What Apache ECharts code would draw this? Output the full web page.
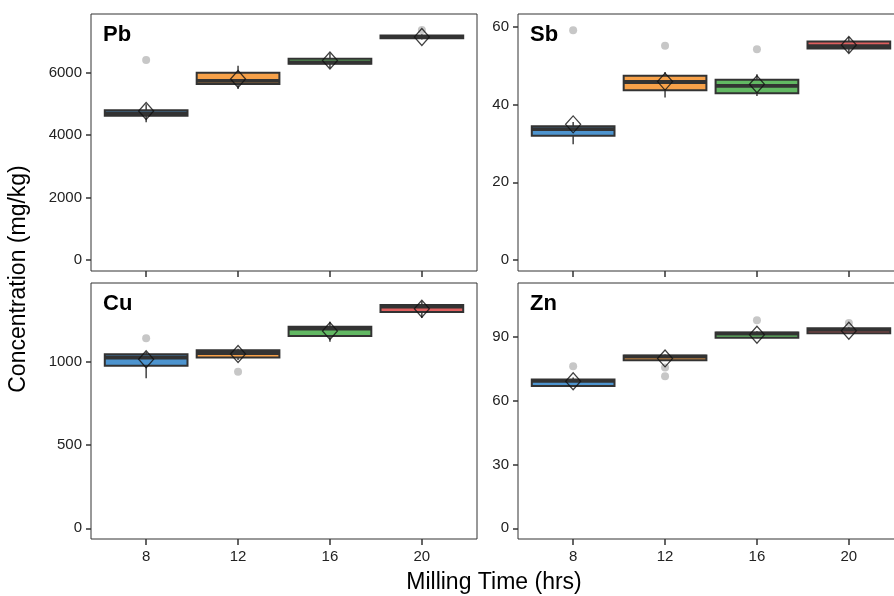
<!DOCTYPE html>
<html>
<head>
<meta charset="utf-8">
<script src="https://cdn.jsdelivr.net/npm/echarts@6/dist/echarts.min.js"></script>
<style>
  html, body { margin: 0; padding: 0; background: #fff; overflow: hidden; }
  #main { width: 910px; height: 596px; }
</style>
</head>
<body>
<div id="main"></div>
<script>
// milling time categories
const hours = ['8', '12', '16', '20']
const boxColors = ['#4d94cf', '#f7a149', '#62b863', '#df5f5f']

// box stats per milling time: [low whisker, q1, median, q3, high whisker]
const pbStats = [[4410, 4620, 4700, 4800, 4990], [5480, 5640, 5740, 6000, 6220], [6150, 6290, 6330, 6450, 6620], [7060, 7100, 7140, 7190, 7230]]
const pbMeans = [4775, 5800, 6390, 7140]
const pbOutliers = [[1, 6410], [4, 7370]]

const sbStats = [[29.8, 32.0, 33.7, 34.4, 35.5], [41.8, 43.7, 45.8, 47.4, 48.4], [42.2, 42.9, 44.8, 46.4, 47.8], [53.3, 54.4, 55.0, 56.2, 57.4]]
const sbMeans = [34.9, 45.9, 45.2, 55.3]
const sbOutliers = [[1, 59.1], [2, 55.1], [3, 54.2]]

const cuStats = [[900, 976, 1025, 1044, 1060], [1010, 1025, 1052, 1068, 1078], [1120, 1154, 1198, 1209, 1240], [1262, 1298, 1330, 1340, 1362]]
const cuMeans = [1014, 1046, 1184, 1317]
const cuOutliers = [[1, 1140], [2, 940]]

const znStats = [[66.6, 66.8, 69.2, 69.9, 70.8], [78.6, 78.9, 80.6, 81.2, 81.6], [89.3, 89.5, 91.4, 92.0, 92.6], [91.4, 91.6, 93.2, 94.0, 94.4]]
const znMeans = [69.1, 79.8, 90.9, 92.8]
const znOutliers = [[1, 76.1], [2, 75.5], [2, 71.4], [3, 97.7], [4, 96.4]]

// y tick labels per panel
const pbTicks = [0, 2000, 4000, 6000]
const sbTicks = [0, 20, 40, 60]
const cuTicks = [0, 500, 1000]
const znTicks = [0, 30, 60, 90]

const panels = [
    { name: 'Pb', stats: pbStats, means: pbMeans, outliers: pbOutliers, ticks: pbTicks, min: -352, max: 7880, left: 91, top: 14, height: 257, xLabels: false },
    { name: 'Sb', stats: sbStats, means: sbMeans, outliers: sbOutliers, ticks: sbTicks, min: -2.83, max: 63.3, left: 518, top: 14, height: 257, xLabels: false },
    { name: 'Cu', stats: cuStats, means: cuMeans, outliers: cuOutliers, ticks: cuTicks, min: -64, max: 1472, left: 91, top: 283, height: 256, xLabels: true },
    { name: 'Zn', stats: znStats, means: znMeans, outliers: znOutliers, ticks: znTicks, min: -5, max: 115.2, left: 518, top: 283, height: 256, xLabels: true }
]

const fontFamily = '"Liberation Sans", Arial, sans-serif'
const catIdx = [1, 2, 3, 4]

function renderBox(params, api) {
    let x = api.value(0)
    let half = 0.45
    let lo = api.coord([x, api.value(1)])
    let q1 = api.coord([x, api.value(2)])
    let med = api.coord([x, api.value(3)])
    let q3 = api.coord([x, api.value(4)])
    let hi = api.coord([x, api.value(5)])
    let l = api.coord([x - half, api.value(3)])[0]
    let r = api.coord([x + half, api.value(3)])[0]
    let dark = '#333333'
    return {
        type: 'group',
        children: [
            { type: 'line', shape: { x1: hi[0], y1: hi[1], x2: q3[0], y2: q3[1] }, style: { stroke: dark, lineWidth: 1.4 } },
            { type: 'line', shape: { x1: q1[0], y1: q1[1], x2: lo[0], y2: lo[1] }, style: { stroke: dark, lineWidth: 1.4 } },
            { type: 'rect', shape: { x: l, y: q3[1], width: r - l, height: q1[1] - q3[1] }, style: { fill: boxColors[params.dataIndex], stroke: dark, lineWidth: 2 } },
            { type: 'line', shape: { x1: l, y1: med[1], x2: r, y2: med[1] }, style: { stroke: dark, lineWidth: 3.8 } }
        ]
    }
}

let grids = [], xAxes = [], yAxes = [], series = [], titles = []
panels.forEach(function (p, i) {
    grids.push({ left: p.left, top: p.top, width: 386, height: p.height, show: true, borderColor: '#333', borderWidth: 1, backgroundColor: '#fff' })
    xAxes.push({
        type: 'value', gridIndex: i, min: 0.4, max: 4.6,
        splitLine: { show: false }, axisLine: { show: false, onZero: false },
        axisTick: { show: true, length: 6, customValues: catIdx, lineStyle: { color: '#333', width: 1.5 } },
        axisLabel: {
            show: p.xLabels, customValues: catIdx, margin: 10, color: '#222', fontSize: 15, fontFamily: fontFamily,
            formatter: function (v) { return hours[Math.round(v) - 1] }
        }
    })
    yAxes.push({
        type: 'value', gridIndex: i, min: p.min, max: p.max,
        splitLine: { show: false }, axisLine: { show: false, onZero: false },
        axisTick: { show: true, length: 5, customValues: p.ticks, lineStyle: { color: '#333', width: 1.5 } },
        axisLabel: { customValues: p.ticks, margin: 9, color: '#222', fontSize: 15, fontFamily: fontFamily, formatter: function (v) { return String(v) } }
    })
    series.push({
        type: 'scatter', xAxisIndex: i, yAxisIndex: i, z: 1,
        symbol: 'circle', symbolSize: 8,
        itemStyle: { color: '#b9b9b9' },
        data: p.outliers
    })
    series.push({
        type: 'custom', xAxisIndex: i, yAxisIndex: i, z: 2,
        renderItem: renderBox,
        data: p.stats.map(function (s, k) { return [k + 1].concat(s) })
    })
    series.push({
        type: 'scatter', xAxisIndex: i, yAxisIndex: i, z: 3,
        symbol: 'diamond', symbolSize: [15, 17],
        itemStyle: { color: 'rgba(0,0,0,0)', borderColor: '#111', borderWidth: 1.3 },
        data: p.means.map(function (m, k) { return [k + 1, m] })
    })
    titles.push({ text: p.name, left: p.left + 7, top: p.top + 5, textStyle: { fontSize: 22, fontWeight: 'bold', color: '#000', fontFamily: fontFamily } })
})

let myChart = echarts.init(document.getElementById('main'))
let option = {
    backgroundColor: '#fff',
    animation: false,
    title: titles,
    grid: grids,
    xAxis: xAxes,
    yAxis: yAxes,
    series: series,
    graphic: [
        { type: 'text', x: 19, y: 279, rotation: Math.PI / 2, style: { text: 'Concentration (mg/kg)', fontSize: 23, fontFamily: fontFamily, fill: '#000', textAlign: 'center', textVerticalAlign: 'middle' } },
        { type: 'text', x: 494, y: 583, style: { text: 'Milling Time (hrs)', fontSize: 23, fontFamily: fontFamily, fill: '#000', textAlign: 'center', textVerticalAlign: 'middle' } }
    ]
}
myChart.setOption(option)
window.addEventListener('resize', function () {
    myChart.resize()
})
</script>
</body>
</html>
